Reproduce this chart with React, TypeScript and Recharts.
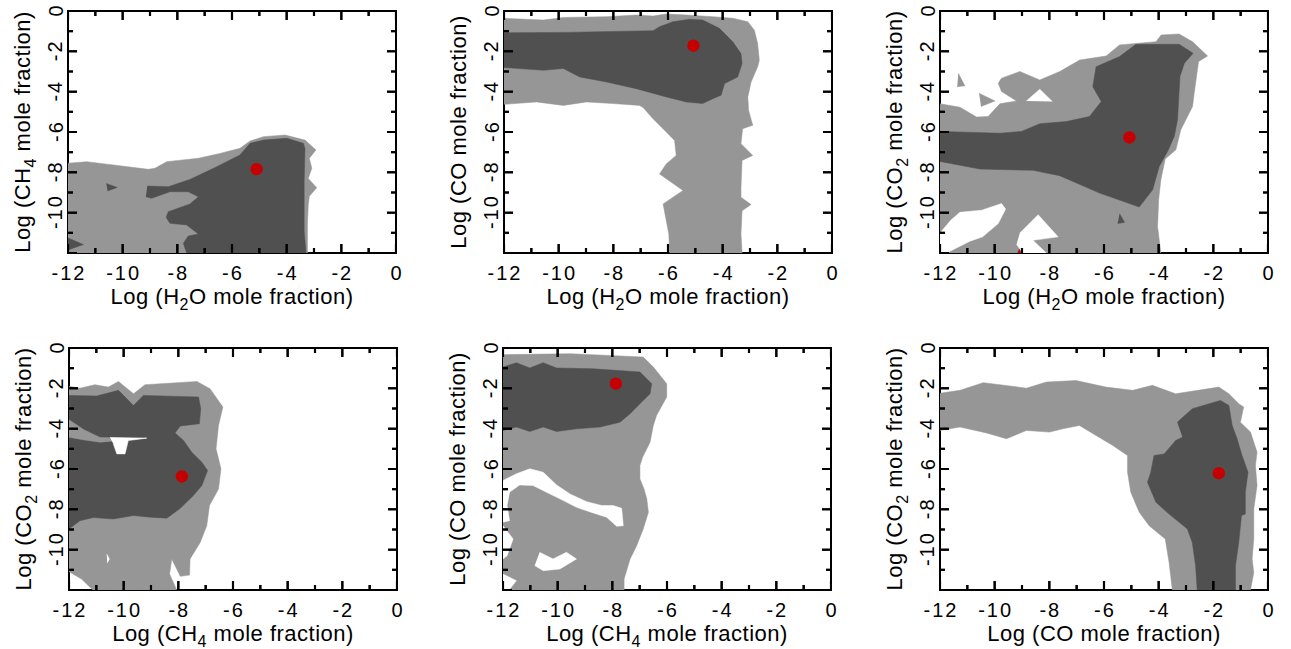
import React from 'react';
import { ScatterChart, Scatter, XAxis, YAxis, ReferenceArea } from 'recharts';

type P = [number, number];

const LIGHT = '#969696';
const DARK = '#505050';
const WHITE = '#ffffff';
const RED = '#c40000';
const FONT = '"Liberation Sans", Arial, Helvetica, sans-serif';

const axisTicks = [-12, -11, -10, -9, -8, -7, -6, -5, -4, -3, -2, -1, 0];
const TITLE_AT = -6; // centre of both axes, where the axis titles are anchored

// ---------- Panel 1: H2O vs CH4 ----------
const p1Light: P[] = [[-12,-7.55],[-11.32,-7.47],[-9.06,-7.85],[-8.82,-7.80],[-8.39,-7.47],[-7.23,-7.30],[-6.44,-7.06],[-5.71,-6.81],[-5.34,-6.45],[-4.85,-6.23],[-4.06,-6.15],[-3.33,-6.40],[-2.93,-6.89],[-3.17,-7.30],[-3.08,-7.80],[-3.21,-8.30],[-2.90,-8.76],[-3.17,-9.18],[-3.21,-9.62],[-3.24,-10.61],[-3.24,-12],[-12,-12]];
const p1Dark: P[] = [[-9.10,-8.68],[-8.33,-8.71],[-7.54,-8.35],[-6.6,-7.75],[-5.71,-7.14],[-5.34,-6.56],[-4.85,-6.40],[-4.00,-6.31],[-3.39,-6.56],[-3.33,-6.81],[-3.36,-8.5],[-3.36,-10.94],[-3.29,-12],[-7.66,-12],[-7.78,-11.52],[-7.60,-11.16],[-7.23,-11.06],[-7.66,-10.61],[-8.27,-10.53],[-8.41,-10.23],[-8.33,-9.95],[-7.54,-9.57],[-7.23,-9.21],[-7.60,-8.96],[-8.27,-8.96],[-8.94,-9.29],[-9.15,-9.21]];
const p1DarkSpot: P[] = [[-10.6,-8.55],[-10.2,-8.75],[-10.55,-8.92]];
const p1DarkCorner: P[] = [[-12,-11.25],[-11.44,-11.58],[-12,-11.85]];
const p1Best: P[] = [[-5.10,-7.84]];

// ---------- Panel 2: H2O vs CO ----------
const p2Light: P[] = [[-12,-0.36],[-10.56,-0.45],[-9.83,-0.32],[-8.25,-0.28],[-7.16,-0.2],[-6.55,-0.25],[-6.06,-0.15],[-5.33,-0.2],[-4.36,-0.28],[-3.63,-0.36],[-3.08,-0.53],[-2.84,-0.95],[-2.72,-1.61],[-2.66,-2.44],[-2.72,-2.77],[-2.96,-3.52],[-3.08,-4.26],[-3.05,-4.93],[-2.90,-5.67],[-3.27,-5.84],[-3.33,-6.58],[-2.90,-7.16],[-3.29,-7.41],[-3.33,-8.74],[-3.33,-9.24],[-2.96,-9.60],[-3.29,-9.90],[-3.33,-11.06],[-3.29,-12],[-5.94,-12],[-5.97,-11.06],[-6.18,-9.57],[-5.45,-8.9],[-6.31,-8.08],[-6.06,-7.58],[-5.70,-7.16],[-5.76,-6.42],[-6.0,-6.09],[-6.55,-5.34],[-6.91,-4.79],[-7.04,-4.68],[-8.01,-4.59],[-8.98,-4.51],[-9.83,-4.68],[-10.81,-4.51],[-12,-4.63]];
const p2Dark: P[] = [[-12,-1.08],[-9.83,-1.06],[-7.52,-1.0],[-6.55,-0.98],[-6.31,-0.78],[-5.82,-0.53],[-5.21,-0.41],[-4.73,-0.45],[-4.12,-0.86],[-3.63,-1.53],[-3.33,-2.11],[-3.29,-2.60],[-3.45,-3.27],[-3.93,-3.60],[-4.06,-4.18],[-4.36,-4.35],[-4.73,-4.59],[-5.33,-4.51],[-6.06,-4.26],[-7.16,-3.85],[-8.25,-3.52],[-9.23,-3.27],[-9.83,-2.85],[-10.56,-2.94],[-12,-2.80]];
const p2Best: P[] = [[-5.07,-1.72]];

// ---------- Panel 3: H2O vs CO2 ----------
const p3Light: P[] = [[-12,-4.60],[-11.27,-4.77],[-10.66,-5.26],[-10.24,-5.23],[-9.81,-4.60],[-9.20,-4.46],[-9.75,-3.99],[-9.87,-3.58],[-9.75,-3.33],[-9.08,-3.00],[-8.35,-3.42],[-7.62,-3.00],[-6.89,-2.43],[-5.92,-2.23],[-5.43,-1.68],[-4.10,-1.52],[-3.91,-1.19],[-3.25,-1.14],[-2.76,-1.52],[-2.21,-2.23],[-2.54,-2.51],[-2.70,-4.08],[-2.76,-4.74],[-3.19,-5.89],[-3.37,-6.88],[-3.76,-7.34],[-3.92,-8.37],[-4.00,-9.36],[-4.04,-10.68],[-3.92,-12],[-12,-12]];
const p3LightTri1: P[] = [[-11.33,-3.09],[-11.09,-3.71],[-11.37,-3.75]];
const p3LightTri2: P[] = [[-10.57,-4.08],[-9.99,-4.46],[-10.50,-4.74]];
const p3WhiteTri: P[] = [[-8.84,-4.46],[-8.35,-3.88],[-7.89,-4.49]];
const p3White1: P[] = [[-12,-11.01],[-11.61,-10.38],[-11.27,-9.98],[-10.48,-9.88],[-9.75,-9.55],[-9.60,-9.82],[-9.87,-10.54],[-10.44,-11.20],[-10.91,-11.42],[-11.51,-11.83],[-11.76,-12],[-12,-12]];
const p3White2: P[] = [[-9.08,-11.01],[-8.41,-10.10],[-7.68,-11.20],[-8.60,-11.37],[-8.11,-12],[-8.96,-12],[-9.20,-11.58]];
const p3Dark: P[] = [[-12,-5.97],[-9.81,-6.06],[-9.02,-5.97],[-8.35,-5.59],[-7.38,-5.48],[-6.53,-5.23],[-6.10,-4.49],[-6.41,-3.75],[-6.29,-2.76],[-5.43,-2.26],[-4.83,-1.65],[-3.25,-1.65],[-2.74,-2.10],[-3.06,-2.59],[-3.22,-3.25],[-3.27,-4.41],[-3.31,-5.40],[-3.43,-6.22],[-3.67,-6.96],[-3.98,-7.71],[-4.22,-8.86],[-4.71,-9.72],[-6.16,-9.03],[-7.62,-8.17],[-8.60,-7.90],[-10.54,-7.84],[-12,-7.46]];
const p3DarkTri: P[] = [[-5.43,-10.05],[-5.25,-10.48],[-5.50,-10.54]];
const p3RedMark: P[] = [[-9.16,-12],[-9.1,-11.82],[-9.04,-12]];
const p3Best: P[] = [[-5.07,-6.27]];

// ---------- Panel 4: CH4 vs CO2 ----------
const p4Light: P[] = [[-12,-1.90],[-11.60,-1.99],[-11.05,-1.82],[-10.56,-1.94],[-10.19,-1.66],[-9.64,-2.27],[-9.22,-1.82],[-7.32,-1.66],[-6.84,-2.02],[-6.37,-2.93],[-6.53,-3.84],[-6.62,-5.0],[-6.44,-5.99],[-6.53,-6.99],[-6.86,-7.81],[-6.96,-8.81],[-7.20,-9.64],[-7.57,-10.46],[-7.59,-11.26],[-7.93,-11.32],[-8.24,-10.46],[-8.32,-11.21],[-8.06,-12],[-11.13,-12],[-11.54,-11.46],[-12,-11.09]];
const p4Dark: P[] = [[-12,-2.35],[-10.99,-2.38],[-10.19,-2.10],[-9.64,-2.85],[-9.28,-2.35],[-7.26,-2.43],[-7.18,-3.01],[-7.23,-3.76],[-7.93,-3.87],[-8.12,-4.21],[-7.81,-4.59],[-7.51,-5.17],[-7.14,-5.66],[-6.93,-6.08],[-7.14,-6.82],[-7.45,-7.32],[-7.93,-7.95],[-8.42,-8.44],[-9.03,-8.39],[-9.64,-8.31],[-10.38,-8.48],[-11.11,-8.41],[-11.60,-8.56],[-12,-8.97]];
const p4Notch: P[] = [[-12,-3.56],[-11.47,-4.04],[-10.86,-4.44],[-9.16,-4.47],[-10.86,-4.67],[-11.5,-4.55],[-12,-4.42]];
const p4Hole: P[] = [[-10.50,-4.44],[-9.16,-4.47],[-9.83,-4.59],[-9.95,-5.25],[-10.25,-5.25],[-10.38,-4.75]];
const p4Spike: P[] = [[-10.62,-10.22],[-10.52,-10.46],[-10.60,-10.66]];
const p4Best: P[] = [[-7.87,-6.37]];

// ---------- Panel 5: CH4 vs CO ----------
const p5Light: P[] = [[-12,-0.33],[-9.55,-0.28],[-6.87,-0.45],[-6.50,-0.94],[-6.01,-1.77],[-6.01,-2.43],[-6.38,-3.34],[-6.50,-3.84],[-6.62,-4.67],[-6.89,-5.41],[-6.99,-5.83],[-6.99,-6.49],[-6.84,-6.99],[-6.74,-7.48],[-6.68,-8.15],[-6.87,-8.97],[-7.11,-9.80],[-7.35,-10.46],[-7.57,-11.46],[-7.57,-12],[-12,-12]];
const p5White1: P[] = [[-12,-6.57],[-11.51,-6.24],[-11.02,-5.99],[-10.53,-6.16],[-10.04,-6.79],[-9.55,-7.24],[-8.94,-7.62],[-8.39,-7.81],[-7.97,-7.81],[-7.66,-7.95],[-7.60,-8.81],[-7.84,-8.84],[-8.21,-8.39],[-8.70,-8.18],[-9.31,-7.90],[-9.92,-7.48],[-10.41,-7.15],[-10.90,-6.82],[-11.39,-6.79],[-11.76,-7.15],[-11.85,-7.81],[-11.76,-8.56],[-12,-8.64]];
const p5White3: P[] = [[-12,-8.81],[-11.63,-9.47],[-11.85,-10.30],[-12,-10.46]];
const p5White4: P[] = [[-10.66,-10.13],[-10.17,-10.46],[-9.68,-10.13],[-9.31,-10.46],[-9.92,-10.96],[-10.53,-11.04],[-10.84,-10.79]];
const p5White5: P[] = [[-12,-11.21],[-11.51,-11.54],[-11.78,-12],[-12,-12]];
const p5Dark: P[] = [[-12,-0.94],[-11.51,-0.73],[-11.02,-0.99],[-10.53,-0.73],[-10.04,-0.99],[-8.70,-1.03],[-6.99,-1.19],[-6.56,-1.77],[-6.62,-2.27],[-6.93,-2.68],[-7.35,-3.26],[-7.72,-3.68],[-8.45,-3.92],[-9.31,-4.01],[-10.04,-4.14],[-10.53,-3.92],[-11.02,-4.14],[-11.51,-3.92],[-12,-4.09]];
const p5Best: P[] = [[-7.87,-1.77]];

// ---------- Panel 6: CO vs CO2 ----------
const p6Light: P[] = [[-12,-2.24],[-11.27,-2.10],[-10.42,-1.72],[-9.81,-1.82],[-8.84,-1.99],[-8.11,-1.69],[-7.02,-1.61],[-5.93,-1.94],[-4.95,-2.10],[-4.23,-1.85],[-3.38,-2.27],[-1.80,-1.94],[-1.43,-2.27],[-1.07,-2.76],[-0.89,-2.93],[-1.01,-3.68],[-0.64,-4.17],[-0.40,-5.17],[-0.46,-5.83],[-0.40,-6.82],[-0.52,-7.98],[-0.52,-9.47],[-0.58,-10.46],[-0.52,-11.13],[-0.64,-12],[-3.50,-12],[-3.62,-10.63],[-3.76,-9.47],[-4.35,-8.81],[-4.71,-8.15],[-5.02,-7.15],[-5.14,-6.16],[-5.14,-5.33],[-5.68,-4.83],[-6.29,-4.34],[-6.90,-3.84],[-7.51,-4.01],[-7.99,-4.17],[-8.84,-4.09],[-9.57,-4.50],[-10.30,-4.21],[-11.27,-3.92],[-12,-4.09]];
const p6Dark: P[] = [[-3.32,-3.68],[-2.77,-3.01],[-1.74,-2.60],[-1.43,-2.85],[-1.31,-3.84],[-1.13,-4.50],[-0.95,-5.33],[-0.73,-6.16],[-0.83,-7.15],[-0.83,-8.23],[-0.97,-8.31],[-1.07,-9.64],[-1.19,-10.79],[-1.19,-12],[-2.59,-12],[-2.65,-10.79],[-2.77,-9.64],[-2.95,-8.97],[-3.62,-8.23],[-4.10,-7.65],[-4.41,-6.66],[-4.29,-6.16],[-4.17,-5.33],[-3.80,-5.25],[-3.38,-4.59],[-3.13,-4.42]];
const p6Best: P[] = [[-1.80,-6.21]];

type Layer = { data: P[]; fill: string };
type Title = [string, string?, string?];

const PLOT_W = 328;
const PLOT_H = 242;
const AX_L = 70;
const M_TOP = 11;
const AX_B = 70;
const TICK_MAJ_PX = 9;
const TICK_MIN_PX = 5;

// tick-mark geometry in axis units (≈9px / 5px long, ≈2px thick for this plot size)
const TX_MAJ = 0.33, TX_MIN = 0.18, TX_HW = 0.04;
const TY_MAJ = 0.45, TY_MIN = 0.25, TY_HW = 0.05;

const toXY = (arr: P[]) => arr.map(([x, y]) => ({ x, y }));
const isMajor = (v: number) => v % 2 === 0;

const tickCombBottom: P[] = axisTicks.flatMap((v): P[] => {
  const l = isMajor(v) ? TY_MAJ : TY_MIN;
  return [[v - TX_HW, -12], [v - TX_HW, -12 + l], [v + TX_HW, -12 + l], [v + TX_HW, -12]];
});
const tickCombTop: P[] = axisTicks.flatMap((v): P[] => {
  const l = isMajor(v) ? TY_MAJ : TY_MIN;
  return [[v - TX_HW, 0], [v - TX_HW, -l], [v + TX_HW, -l], [v + TX_HW, 0]];
});
const tickCombLeft: P[] = axisTicks.flatMap((v): P[] => {
  const l = isMajor(v) ? TX_MAJ : TX_MIN;
  return [[-12, v - TY_HW], [-12 + l, v - TY_HW], [-12 + l, v + TY_HW], [-12, v + TY_HW]];
});
const tickCombRight: P[] = axisTicks.flatMap((v): P[] => {
  const l = isMajor(v) ? TX_MAJ : TX_MIN;
  return [[0, v - TY_HW], [-l, v - TY_HW], [-l, v + TY_HW], [0, v + TY_HW]];
});
const tickCombs = [tickCombBottom, tickCombTop, tickCombLeft, tickCombRight];

function TitleText({ x, y, rotate, parts }: { x: number; y: number; rotate?: boolean; parts: Title }) {
  return (
    <text
      x={x}
      y={y}
      transform={rotate ? `rotate(-90 ${x} ${y})` : undefined}
      textAnchor="middle"
      fontFamily={FONT}
      fontSize={22}
      letterSpacing={0.5}
      fill="#000"
    >
      <tspan>{parts[0]}</tspan>
      {parts[1] ? (
        <>
          <tspan dy={6} fontSize={16}>{parts[1]}</tspan>
          <tspan dy={-6}>{parts[2]}</tspan>
        </>
      ) : null}
    </text>
  );
}

function BottomTick(props: any) {
  const { x, y, payload, title } = props;
  const v = payload.value as number;
  const len = isMajor(v) ? TICK_MAJ_PX : TICK_MIN_PX;
  const yTop = y - PLOT_H;
  return (
    <g>
      <path d={`M${x},${y}V${y - len}`} stroke="#000" strokeWidth={2} fill="none" />
      <path d={`M${x},${yTop}V${yTop + len}`} stroke="#000" strokeWidth={2} fill="none" />
      {isMajor(v) && (
        <text x={x + 1} y={y + 27} textAnchor="middle" fontFamily={FONT} fontSize={20} letterSpacing={2} fill="#000">
          {String(v)}
        </text>
      )}
      {v === TITLE_AT && title ? <TitleText x={x} y={y + 51} parts={title} /> : null}
    </g>
  );
}
function LeftTick(props: any) {
  const { x, y, payload, title } = props;
  const v = payload.value as number;
  const len = isMajor(v) ? TICK_MAJ_PX : TICK_MIN_PX;
  const xRight = x + PLOT_W;
  const tx = x - 5.5;
  return (
    <g>
      <path d={`M${x},${y}H${x + len}`} stroke="#000" strokeWidth={2} fill="none" />
      <path d={`M${xRight},${y}H${xRight - len}`} stroke="#000" strokeWidth={2} fill="none" />
      {isMajor(v) && v !== -12 && (
        <text x={tx} y={y - 1} transform={`rotate(-90 ${tx} ${y - 1})`} textAnchor="middle" fontFamily={FONT} fontSize={20} letterSpacing={2} fill="#000">
          {String(v)}
        </text>
      )}
      {v === TITLE_AT && title ? <TitleText x={x - 38} y={y} rotate parts={title} /> : null}
    </g>
  );
}

function Panel({ left, top, xTitle, yTitle, layers, best }: { left: number; top: number; xTitle: Title; yTitle: Title; layers: Layer[]; best: P[] }) {
  const width = AX_L + PLOT_W + 20;
  const height = M_TOP + PLOT_H + AX_B;
  return (
    <div style={{ position: 'absolute', left: left - AX_L, top: top - M_TOP, width, height }}>
      <ScatterChart width={width} height={height} margin={{ top: M_TOP, right: 20, bottom: 0, left: 0 }}>
        <XAxis
          xAxisId="b"
          orientation="bottom"
          type="number"
          dataKey="x"
          domain={[-12, 0]}
          allowDataOverflow
          ticks={axisTicks}
          interval={0}
          height={AX_B}
          tickSize={0}
          tickMargin={0}
          tickLine={false}
          axisLine={false}
          tick={<BottomTick title={xTitle} />}
        />
        <YAxis
          yAxisId="l"
          orientation="left"
          type="number"
          dataKey="y"
          domain={[-12, 0]}
          allowDataOverflow
          ticks={axisTicks}
          interval={0}
          width={AX_L}
          tickSize={0}
          tickMargin={0}
          tickLine={false}
          axisLine={false}
          tick={<LeftTick title={yTitle} />}
        />
        {layers.map((l, i) => (
          <Scatter
            key={i}
            data={toXY(l.data)}
            xAxisId="b"
            yAxisId="l"
            fill={l.fill}
            line={{ fill: l.fill, stroke: l.fill, strokeWidth: 0.5 }}
            lineType="joint"
            shape={() => <g />}
            isAnimationActive={false}
          />
        ))}
        <Scatter
          data={toXY(best)}
          xAxisId="b"
          yAxisId="l"
          fill={RED}
          shape={(p: any) => <circle cx={p.cx} cy={p.cy} r={6.2} fill={RED} />}
          isAnimationActive={false}
        />
        {tickCombs.map((c, i) => (
          <Scatter
            key={`tick${i}`}
            data={toXY(c)}
            xAxisId="b"
            yAxisId="l"
            fill="#000"
            line={{ fill: '#000', stroke: 'none' }}
            lineType="joint"
            shape={() => <g />}
            isAnimationActive={false}
          />
        ))}
        <ReferenceArea
          xAxisId="b"
          yAxisId="l"
          x1={-12}
          x2={0}
          y1={-12}
          y2={0}
          fill="none"
          fillOpacity={0}
          stroke="#000"
          strokeWidth={2}
          ifOverflow="visible"
        />
      </ScatterChart>
    </div>
  );
}

const H2O: Title = ['Log (H', '2', 'O mole fraction)'];
const CH4: Title = ['Log (CH', '4', ' mole fraction)'];
const CO: Title = ['Log (CO mole fraction)'];
const CO2: Title = ['Log (CO', '2', ' mole fraction)'];

export default function App() {
  return (
    <div style={{ position: 'absolute', left: 0, top: 0, width: 1291, height: 649, background: '#fff', overflow: 'hidden' }}>
      <Panel left={68} top={11} xTitle={H2O} yTitle={CH4} best={p1Best}
        layers={[{ data: p1Light, fill: LIGHT }, { data: p1Dark, fill: DARK }, { data: p1DarkSpot, fill: DARK }, { data: p1DarkCorner, fill: DARK }]} />
      <Panel left={504} top={11} xTitle={H2O} yTitle={CO} best={p2Best}
        layers={[{ data: p2Light, fill: LIGHT }, { data: p2Dark, fill: DARK }]} />
      <Panel left={940} top={11} xTitle={H2O} yTitle={CO2} best={p3Best}
        layers={[{ data: p3Light, fill: LIGHT }, { data: p3LightTri1, fill: LIGHT }, { data: p3LightTri2, fill: LIGHT }, { data: p3WhiteTri, fill: WHITE }, { data: p3White1, fill: WHITE }, { data: p3White2, fill: WHITE }, { data: p3Dark, fill: DARK }, { data: p3DarkTri, fill: DARK }, { data: p3RedMark, fill: RED }]} />
      <Panel left={69} top={348} xTitle={CH4} yTitle={CO2} best={p4Best}
        layers={[{ data: p4Light, fill: LIGHT }, { data: p4Dark, fill: DARK }, { data: p4Notch, fill: LIGHT }, { data: p4Hole, fill: WHITE }, { data: p4Spike, fill: WHITE }]} />
      <Panel left={503} top={348} xTitle={CH4} yTitle={CO} best={p5Best}
        layers={[{ data: p5Light, fill: LIGHT }, { data: p5White1, fill: WHITE }, { data: p5White3, fill: WHITE }, { data: p5White4, fill: WHITE }, { data: p5White5, fill: WHITE }, { data: p5Dark, fill: DARK }]} />
      <Panel left={940} top={348} xTitle={CO} yTitle={CO2} best={p6Best}
        layers={[{ data: p6Light, fill: LIGHT }, { data: p6Dark, fill: DARK }]} />
    </div>
  );
}
